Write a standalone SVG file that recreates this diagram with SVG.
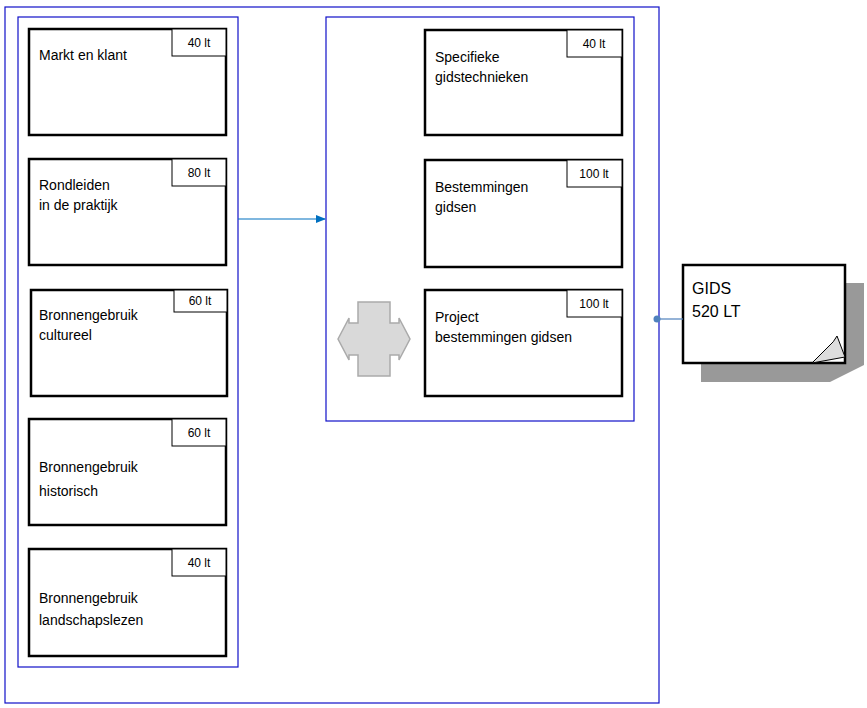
<svg xmlns="http://www.w3.org/2000/svg" width="867" height="708" viewBox="0 0 867 708">
<style>
.c{fill:none;stroke:#1010c8;stroke-width:1.2}
.b{fill:#fff;stroke:#000;stroke-width:2.5}
.t{fill:#fff;stroke:#000;stroke-width:1}
text{font-family:"Liberation Sans",Arial,sans-serif;fill:#000}
.l{font-size:14px}
.s{font-size:12px;text-anchor:middle}
</style>
<defs><marker id="ar" markerWidth="10" markerHeight="8" refX="9" refY="4" orient="auto" markerUnits="userSpaceOnUse"><path d="M0,0L10,4L0,8z" fill="#0070c0"/></marker></defs>
<rect x="5" y="7" width="654" height="696" class="c"/>
<rect x="18" y="17" width="220" height="650" class="c"/>
<rect x="326" y="17" width="308" height="404" class="c"/>
<g id="n1"><rect x="29" y="29" width="197" height="106" class="b"/><rect x="172" y="29" width="54" height="27" class="t"/><text x="199" y="47" class="s">40 lt</text><text x="39" y="60" class="l">Markt en klant</text></g>
<g id="n2"><rect x="29" y="159" width="197" height="106" class="b"/><rect x="172" y="159" width="54" height="27" class="t"/><text x="199" y="177" class="s">80 lt</text><text x="39" y="190" class="l">Rondleiden</text><text x="39" y="210" class="l">in de praktijk</text></g>
<g id="n3"><rect x="31" y="290" width="196" height="106" class="b"/><rect x="174" y="290" width="53" height="22" class="t"/><text x="200" y="305" class="s">60 lt</text><text x="39" y="320" class="l">Bronnengebruik</text><text x="39" y="340" class="l">cultureel</text></g>
<g id="n4"><rect x="29" y="419" width="197" height="106" class="b"/><rect x="172" y="419" width="54" height="27" class="t"/><text x="199" y="437" class="s">60 lt</text><text x="39" y="472" class="l">Bronnengebruik</text><text x="39" y="496" class="l">historisch</text></g>
<g id="n5"><rect x="29" y="549" width="197" height="107" class="b"/><rect x="172" y="549" width="54" height="27" class="t"/><text x="199" y="567" class="s">40 lt</text><text x="39" y="603" class="l">Bronnengebruik</text><text x="39" y="625" class="l">landschapslezen</text></g>
<g id="r1"><rect x="425" y="30" width="197" height="105" class="b"/><rect x="567" y="30" width="55" height="27" class="t"/><text x="594" y="48" class="s">40 lt</text><text x="435" y="62" class="l">Specifieke</text><text x="435" y="82" class="l">gidstechnieken</text></g>
<g id="r2"><rect x="425" y="160" width="197" height="107" class="b"/><rect x="567" y="160" width="55" height="27" class="t"/><text x="594" y="178" class="s">100 lt</text><text x="435" y="192" class="l">Bestemmingen</text><text x="435" y="212" class="l">gidsen</text></g>
<g id="r3"><rect x="425" y="290" width="197" height="106" class="b"/><rect x="567" y="290" width="55" height="27" class="t"/><text x="594" y="308" class="s">100 lt</text><text x="435" y="322" class="l">Project</text><text x="435" y="342" class="l">bestemmingen gidsen</text></g>
<g id="hex"><path d="M338,339L349,318V323H358V302H390V323H399V318L410,339L399,360V355H390V376H358V355H349V360Z" fill="#d9d9d9" stroke="#aaa" stroke-width="1.5"/></g>
<g id="gids"><path d="M701,283H864V365L830,382H701Z" fill="#999"/><rect x="683" y="265" width="162" height="98" class="b" stroke-width="3.5"/><path d="M812,363L828,347Q834,342 837,336L845,357Z" fill="#ddd" stroke="#000" stroke-width="1"/><text x="692" y="294" font-size="16">GIDS</text><text x="692" y="317" font-size="16">520 LT</text></g>
<g id="connectors"><path d="M238,219H325" stroke="#0070c0" stroke-width="1.2" fill="none" marker-end="url(#ar)"/><path d="M657,319H683" stroke="#4f81bd" stroke-width="1.2"/><circle cx="657" cy="319" r="3.5" fill="#4f81bd"/></g>
</svg>
